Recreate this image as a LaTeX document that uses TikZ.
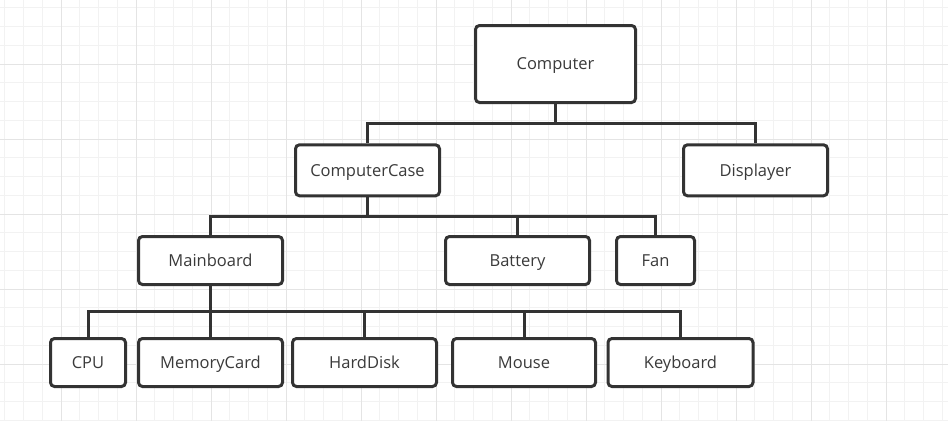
\documentclass[tikz,border=0pt]{standalone}
\usepackage{fontspec}
\setmainfont{Open Sans}
\definecolor{boxc}{HTML}{333333}
\definecolor{txtc}{HTML}{3A3A3A}
\definecolor{gridminor}{HTML}{F2F2F2}
\definecolor{gridmajor}{HTML}{E4E4E4}
\begin{document}
\begin{tikzpicture}[x=1pt,y=-1pt,
  box/.style={draw=boxc, line width=3pt, rounded corners=4pt, fill=white,
    minimum width=144pt, minimum height=48pt, inner sep=0pt,
    text height=11.8pt, text depth=0pt,
    font=\fontsize{16.5}{19}\selectfont, text=txtc},
  conn/.style={draw=boxc, line width=3pt},
  gminor/.style={draw=gridminor, line width=1pt},
  gmajor/.style={draw=gridmajor, line width=1pt}]
\useasboundingbox (0,0) rectangle (948,421);
\fill[white] (0,0) rectangle (948,421);
% grid
\foreach \i in {0,...,50} {\draw[gminor] ({4.75+\i*18.75},0) -- ({4.75+\i*18.75},421);}
\foreach \j in {0,...,22} {\draw[gminor] (0,{7.75+\j*18.75}) -- (948,{7.75+\j*18.75});}
\foreach \i in {0,...,12} {\draw[gmajor] ({61+\i*75},0) -- ({61+\i*75},421);}
\foreach \j in {0,...,5} {\draw[gmajor] (0,{64+\j*75}) -- (948,{64+\j*75});}
% nodes
\node[box, minimum width=160pt, minimum height=77pt] (comp) at (555.5,64) {Computer};
\node[box, minimum height=51pt] (case) at (367.5,170.3) {ComputerCase};
\node[box, minimum height=51pt] (disp) at (755.5,170.3) {Displayer};
\node[box] (main) at (210.5,260.5) {Mainboard};
\node[box] (batt) at (517.5,260.5) {Battery};
\node[box, minimum width=78pt] (fan) at (655.5,260.5) {Fan};
\node[box, minimum width=75pt] (cpu) at (88,362.5) {CPU};
\node[box] (mem) at (210.5,362.5) {MemoryCard};
\node[box] (hdd) at (364.5,362.5) {HardDisk};
\node[box, minimum width=143pt] (mouse) at (524,362.5) {Mouse};
\node[box, minimum width=145pt] (kbd) at (680.5,362.5) {Keyboard};
% bus levels
\coordinate (b1) at (0,123.5);
\coordinate (b2) at (0,216.5);
\coordinate (b3) at (0,311.5);
% connectors
\foreach \c in {case,disp} {\draw[conn] (comp.south) -- (comp.south |- b1) -| (\c.north);}
\foreach \c in {main,batt,fan} {\draw[conn] (case.south) -- (case.south |- b2) -| (\c.north);}
\foreach \c in {cpu,mem,hdd,mouse,kbd} {\draw[conn] (main.south) -- (main.south |- b3) -| (\c.north);}
\end{tikzpicture}
\end{document}
